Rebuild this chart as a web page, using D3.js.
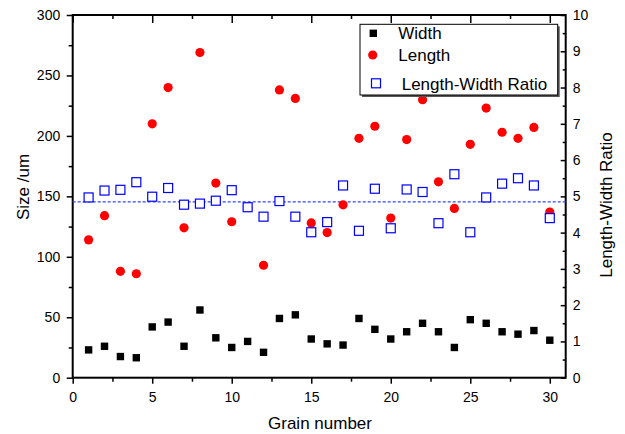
<!DOCTYPE html>
<html>
<head>
<meta charset="utf-8">
<script src="https://cdn.jsdelivr.net/npm/d3@7"></script>
<style>
  body { margin: 0; background: #fff; }
  svg { font-family: Arial, "Liberation Sans", sans-serif; }
</style>
</head>
<body>
<div id="chart"></div>
<script>
// grain numbers along the bottom
var grains = [1, 2, 3, 4, 5, 6, 7, 8, 9, 10,
              11, 12, 13, 14, 15, 16, 17, 18, 19, 20,
              21, 22, 23, 24, 25, 26, 27, 28, 29, 30];

// width in um (black squares, left axis)
var widthVals = [23, 26, 17.5, 16.5, 42, 46, 26, 56, 33, 25,
                 30, 21, 49, 52, 32, 28, 27, 49, 40, 32,
                 38, 45, 38, 25, 48, 45, 38, 36, 39, 31];

// length in um (red circles, left axis)
// grain 11 sits right under its ratio square, so it is hidden like in the original
var lengthVals = [114, 134, 88, 86, 210, 240, 124, 269, 161, 129,
                  141, 93, 238, 231, 128, 120, 143, 198, 208, 132,
                  197, 230, 162, 140, 193, 223, 203, 198, 207, 137];

// length-width ratio (blue open squares, right axis)
var ratioVals = [4.97, 5.16, 5.18, 5.39, 4.99, 5.23, 4.77, 4.80, 4.88, 5.17,
                 4.70, 4.44, 4.87, 4.44, 4.01, 4.29, 5.30, 4.05, 5.21, 4.12,
                 5.19, 5.12, 4.26, 5.61, 4.01, 4.97, 5.35, 5.50, 5.30, 4.40];

// mean ratio, drawn as the dashed line
var meanRatio = 4.85;

var xTicks = [0, 5, 10, 15, 20, 25, 30];
var leftTicks = [0, 50, 100, 150, 200, 250, 300];
var rightTicks = [0, 1, 2, 3, 4, 5, 6, 7, 8, 9, 10];

// plot box edges (note: "top" is taken by window.top, so use pTop etc.)
var w = 625,
    h = 434,
    pLeft = 72.7,
    pRight = 565.7,
    pTop = 15,
    pBottom = 377.7;

var svg = d3.select('#chart')
  .append('svg')
  .attr('width', w)
  .attr('height', h);

var x = d3.scaleLinear().domain([0, 31]).range([pLeft, pRight]);
var yL = d3.scaleLinear().domain([0, 300]).range([pBottom, pTop]);
var yR = d3.scaleLinear().domain([0, 10]).range([pBottom, pTop]);

// minor tick positions are halfway between the majors
function halves(arr) {
  var out = [];
  for (var i = 0; i < arr.length - 1; i++) out.push((arr[i] + arr[i + 1]) / 2);
  return out;
}

function styleAxis(g) {
  g.select('.domain').remove();
  g.selectAll('line').attr('stroke', '#000').attr('stroke-width', 1.5);
  g.selectAll('text').attr('fill', '#000').style('font-size', '14px');
}

// bottom axis, ticks outward
svg.append('g')
  .attr('transform', 'translate(0,' + pBottom + ')')
  .call(d3.axisBottom(x).tickValues(xTicks).tickSize(6).tickPadding(8).tickFormat(d3.format('d')))
  .call(styleAxis);
svg.append('g')
  .attr('transform', 'translate(0,' + pBottom + ')')
  .call(d3.axisBottom(x).tickValues(halves(xTicks)).tickSize(4).tickFormat(''))
  .call(styleAxis);

// top axis, ticks inward
svg.append('g')
  .attr('transform', 'translate(0,' + pTop + ')')
  .call(d3.axisTop(x).tickValues(xTicks).tickSize(-8).tickFormat(''))
  .call(styleAxis);
svg.append('g')
  .attr('transform', 'translate(0,' + pTop + ')')
  .call(d3.axisTop(x).tickValues(halves(xTicks)).tickSize(-4).tickFormat(''))
  .call(styleAxis);

// left axis
svg.append('g')
  .attr('transform', 'translate(' + pLeft + ',0)')
  .call(d3.axisLeft(yL).tickValues(leftTicks).tickSize(6).tickPadding(6.5))
  .call(styleAxis);
svg.append('g')
  .attr('transform', 'translate(' + pLeft + ',0)')
  .call(d3.axisLeft(yL).tickValues(halves(leftTicks)).tickSize(4).tickFormat(''))
  .call(styleAxis);

// right axis, ticks inward
svg.append('g')
  .attr('transform', 'translate(' + pRight + ',0)')
  .call(d3.axisRight(yR).tickValues(rightTicks).tickSize(-5).tickPadding(7))
  .call(styleAxis);
svg.append('g')
  .attr('transform', 'translate(' + pRight + ',0)')
  .call(d3.axisRight(yR).tickValues(halves(rightTicks)).tickSize(-3).tickFormat(''))
  .call(styleAxis);

// frame
svg.append('rect')
  .attr('x', pLeft)
  .attr('y', pTop)
  .attr('width', pRight - pLeft)
  .attr('height', pBottom - pTop)
  .attr('fill', 'none')
  .attr('stroke', '#000')
  .attr('stroke-width', 2);

// dashed mean line
svg.append('line')
  .attr('x1', pLeft)
  .attr('x2', pRight)
  .attr('y1', yR(meanRatio))
  .attr('y2', yR(meanRatio))
  .attr('stroke', '#3344ff')
  .attr('stroke-width', 1.2)
  .attr('stroke-dasharray', '3,2');

// width squares
svg.selectAll('rect.width')
  .data(widthVals)
  .enter()
  .append('rect')
  .attr('class', 'width')
  .attr('x', function(d, i) { return x(grains[i]) - 3.7; })
  .attr('y', function(d) { return yL(d) - 3.7; })
  .attr('width', 7.4)
  .attr('height', 7.4)
  .attr('fill', '#000');

// length circles
svg.selectAll('circle.length')
  .data(lengthVals)
  .enter()
  .append('circle')
  .attr('class', 'length')
  .attr('cx', function(d, i) { return x(grains[i]); })
  .attr('cy', function(d) { return yL(d); })
  .attr('r', 4.6)
  .attr('fill', '#ff0000');

// ratio squares, white inside so they cover what is under them
svg.selectAll('rect.ratio')
  .data(ratioVals)
  .enter()
  .append('rect')
  .attr('class', 'ratio')
  .attr('x', function(d, i) { return x(grains[i]) - 4.5; })
  .attr('y', function(d) { return yR(d) - 4.5; })
  .attr('width', 9)
  .attr('height', 9)
  .attr('fill', '#fff')
  .attr('stroke', '#0000ff')
  .attr('stroke-width', 1.2);

// axis titles
svg.append('text')
  .attr('transform', 'translate(23,187) rotate(-90)')
  .attr('text-anchor', 'middle')
  .attr('dy', '0.35em')
  .style('font-size', '17px')
  .text('Size /um');

svg.append('text')
  .attr('transform', 'translate(606,205) rotate(-90)')
  .attr('text-anchor', 'middle')
  .attr('dy', '0.35em')
  .style('font-size', '17px')
  .text('Length-Width Ratio');

svg.append('text')
  .attr('x', 320)
  .attr('y', 429)
  .attr('text-anchor', 'middle')
  .style('font-size', '17px')
  .text('Grain number');

// legend box with a small shadow
var lg = svg.append('g');
lg.append('rect')
  .attr('x', 362).attr('y', 26.3)
  .attr('width', 197.7).attr('height', 70.7)
  .attr('fill', '#555');
lg.append('rect')
  .attr('x', 360).attr('y', 24.3)
  .attr('width', 197.7).attr('height', 70.7)
  .attr('fill', '#fff')
  .attr('stroke', '#000')
  .attr('stroke-width', 1);

lg.append('rect')
  .attr('x', 373.3 - 3.7).attr('y', 33.3 - 3.7)
  .attr('width', 7.4).attr('height', 7.4)
  .attr('fill', '#000');
lg.append('circle')
  .attr('cx', 372.7).attr('cy', 55)
  .attr('r', 4.6)
  .attr('fill', '#ff0000');
lg.append('rect')
  .attr('x', 376 - 4.5).attr('y', 83.3 - 4.5)
  .attr('width', 9).attr('height', 9)
  .attr('fill', '#fff')
  .attr('stroke', '#0000ff')
  .attr('stroke-width', 1.2);

var legendText = [['Width', 398.3, 33.3], ['Length', 398.3, 55], ['Length-Width Ratio', 401.7, 84]];
lg.selectAll('text')
  .data(legendText)
  .enter()
  .append('text')
  .attr('x', function(d) { return d[1]; })
  .attr('y', function(d) { return d[2]; })
  .attr('dy', '0.35em')
  .style('font-size', '17px')
  .text(function(d) { return d[0]; });
</script>
</body>
</html>
